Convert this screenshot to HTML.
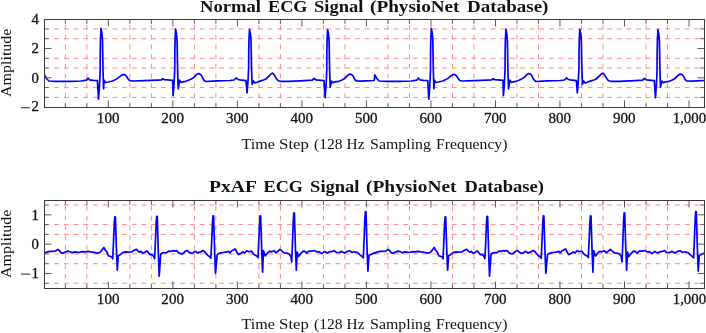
<!DOCTYPE html><html><head><meta charset="utf-8"><style>html,body{margin:0;padding:0;background:#fff;width:706px;height:333px;overflow:hidden}svg{display:block;will-change:transform}text{font-family:"Liberation Serif",serif;fill:#111}</style></head><body>
<svg width="706" height="333" viewBox="0 0 706 333">
<rect width="706" height="333" fill="#fff"/>
<path d="M65.36 103.20V23.80M86.87 103.20V23.80M129.88 103.20V23.80M151.38 103.20V23.80M194.39 103.20V23.80M215.90 103.20V23.80M258.91 103.20V23.80M280.41 103.20V23.80M323.42 103.20V23.80M344.93 103.20V23.80M387.94 103.20V23.80M409.45 103.20V23.80M452.46 103.20V23.80M473.96 103.20V23.80M516.97 103.20V23.80M538.48 103.20V23.80M581.49 103.20V23.80M602.99 103.20V23.80M646.01 103.20V23.80M667.51 103.20V23.80M48.8 97.37H700.2M48.8 87.59H700.2M48.8 68.04H700.2M48.8 58.26H700.2M48.8 38.71H700.2M48.8 28.93H700.2" stroke="#ff8a8a" stroke-width="1.0" stroke-dasharray="4.85 4.85" stroke-dashoffset="4.3" fill="none"/>
<clipPath id="c0"><rect x="44.5" y="19.5" width="660.0" height="88.0"/></clipPath>
<path d="M44.50 74.90 46.50 78.50 48.90 81.00 56.30 81.40 68.60 81.40 80.90 81.00 86.50 80.20 88.10 78.10 89.60 79.80 93.20 80.40 97.40 80.50 98.50 99.20 99.50 85.73 100.15 70.84 100.25 50.99 100.50 38.94 101.00 28.30 102.00 33.74 102.50 40.40 102.75 55.53 103.00 70.05 103.60 88.80 104.10 80.20 105.40 82.50 108.00 82.00 112.50 81.00 115.50 79.60 118.20 77.90 121.00 75.70 123.00 74.50 124.30 74.60 126.10 75.70 127.80 78.50 129.50 80.50 132.30 81.00 144.60 80.70 156.90 80.20 161.50 80.00 162.80 78.60 164.30 79.70 167.40 79.90 172.60 80.30 173.10 95.60 174.10 82.98 174.75 69.04 174.85 50.45 175.10 39.16 175.60 29.20 176.60 34.56 177.10 41.12 177.35 56.02 177.60 70.32 178.20 88.80 179.60 80.20 181.00 82.40 183.00 81.80 185.70 81.30 188.50 80.30 191.30 79.00 194.20 77.10 197.00 74.20 198.70 73.50 201.00 74.80 202.70 78.20 204.40 80.70 206.00 81.50 216.50 80.80 230.00 80.50 234.00 80.00 236.30 77.80 238.00 79.50 240.00 79.90 246.00 80.60 247.00 92.90 248.00 80.82 248.65 67.46 248.75 49.65 249.00 38.84 249.50 29.30 250.50 34.25 251.00 40.30 251.25 54.05 251.50 67.25 252.10 84.30 253.40 81.00 254.70 83.00 257.00 82.30 260.70 80.90 263.50 80.00 265.80 79.00 269.20 75.90 271.40 73.50 272.60 73.20 274.30 74.80 276.50 78.80 278.20 80.70 280.50 81.30 288.30 81.30 300.60 80.80 312.30 80.20 314.20 78.30 316.00 79.90 324.00 80.60 325.10 97.80 326.10 84.86 326.75 70.56 326.85 51.49 327.10 39.91 327.60 29.70 328.60 34.87 329.10 41.18 329.35 55.53 329.60 69.31 330.20 87.10 331.60 81.20 333.00 82.70 335.00 81.80 338.70 81.30 341.50 80.30 344.30 78.80 347.20 75.90 348.90 74.40 350.20 74.20 351.70 74.50 353.40 76.50 354.80 79.60 356.80 81.00 361.30 81.10 366.30 80.80 374.20 80.50 374.82 74.90 376.82 78.50 379.22 81.00 386.62 81.40 398.92 81.40 411.22 81.00 416.82 80.20 418.42 78.10 419.92 79.80 423.52 80.40 427.72 80.50 428.82 99.20 429.82 85.73 430.47 70.84 430.57 50.99 430.82 38.94 431.32 28.30 432.32 33.74 432.82 40.40 433.07 55.53 433.32 70.05 433.92 88.80 434.42 80.20 435.72 82.50 438.32 82.00 442.82 81.00 445.82 79.60 448.52 77.90 451.32 75.70 453.32 74.50 454.62 74.60 456.42 75.70 458.12 78.50 459.82 80.50 462.62 81.00 474.92 80.70 487.22 80.20 491.82 80.00 493.12 78.60 494.62 79.70 497.72 79.90 502.92 80.30 503.42 95.60 504.42 82.98 505.07 69.04 505.17 50.45 505.42 39.16 505.92 29.20 506.92 34.56 507.42 41.12 507.67 56.02 507.92 70.32 508.52 88.80 509.92 80.20 511.32 82.40 513.32 81.80 516.02 81.30 518.82 80.30 521.62 79.00 524.52 77.10 527.32 74.20 529.02 73.50 531.32 74.80 533.02 78.20 534.72 80.70 536.32 81.50 546.82 80.80 560.32 80.50 564.32 80.00 566.62 77.80 568.32 79.50 570.32 79.90 576.32 80.60 577.32 92.90 578.32 80.82 578.97 67.46 579.07 49.65 579.32 38.84 579.82 29.30 580.82 34.25 581.32 40.30 581.57 54.05 581.82 67.25 582.42 84.30 583.72 81.00 585.02 83.00 587.32 82.30 591.02 80.90 593.82 80.00 596.12 79.00 599.52 75.90 601.72 73.50 602.92 73.20 604.62 74.80 606.82 78.80 608.52 80.70 610.82 81.30 618.62 81.30 630.92 80.80 642.62 80.20 644.52 78.30 646.32 79.90 654.32 80.60 655.42 97.80 656.42 84.86 657.07 70.56 657.17 51.49 657.42 39.91 657.92 29.70 658.92 34.87 659.42 41.18 659.67 55.53 659.92 69.31 660.52 87.10 661.92 81.20 663.32 82.70 665.32 81.80 669.02 81.30 671.82 80.30 674.62 78.80 677.52 75.90 679.22 74.40 680.52 74.20 682.02 74.50 683.72 76.50 685.12 79.60 687.12 81.00 691.62 81.10 696.62 80.80 704.52 80.50" stroke="#0000ff" stroke-width="1.7" fill="none" stroke-linejoin="round" clip-path="url(#c0)"/>
<path d="M108.37 107.5v-7M108.37 19.5v7M172.89 107.5v-7M172.89 19.5v7M237.40 107.5v-7M237.40 19.5v7M301.92 107.5v-7M301.92 19.5v7M366.44 107.5v-7M366.44 19.5v7M430.95 107.5v-7M430.95 19.5v7M495.47 107.5v-7M495.47 19.5v7M559.98 107.5v-7M559.98 19.5v7M624.50 107.5v-7M624.50 19.5v7M689.02 107.5v-7M689.02 19.5v7M65.36 107.5v-4.3M65.36 19.5v4.3M86.87 107.5v-4.3M86.87 19.5v4.3M129.88 107.5v-4.3M129.88 19.5v4.3M151.38 107.5v-4.3M151.38 19.5v4.3M194.39 107.5v-4.3M194.39 19.5v4.3M215.90 107.5v-4.3M215.90 19.5v4.3M258.91 107.5v-4.3M258.91 19.5v4.3M280.41 107.5v-4.3M280.41 19.5v4.3M323.42 107.5v-4.3M323.42 19.5v4.3M344.93 107.5v-4.3M344.93 19.5v4.3M387.94 107.5v-4.3M387.94 19.5v4.3M409.45 107.5v-4.3M409.45 19.5v4.3M452.46 107.5v-4.3M452.46 19.5v4.3M473.96 107.5v-4.3M473.96 19.5v4.3M516.97 107.5v-4.3M516.97 19.5v4.3M538.48 107.5v-4.3M538.48 19.5v4.3M581.49 107.5v-4.3M581.49 19.5v4.3M602.99 107.5v-4.3M602.99 19.5v4.3M646.01 107.5v-4.3M646.01 19.5v4.3M667.51 107.5v-4.3M667.51 19.5v4.3M44.5 77.82h7M704.5 77.82h-7M44.5 48.48h7M704.5 48.48h-7M44.5 97.37h4.3M704.5 97.37h-4.3M44.5 87.59h4.3M704.5 87.59h-4.3M44.5 68.04h4.3M704.5 68.04h-4.3M44.5 58.26h4.3M704.5 58.26h-4.3M44.5 38.71h4.3M704.5 38.71h-4.3M44.5 28.93h4.3M704.5 28.93h-4.3" stroke="#5a5a5a" stroke-width="1" fill="none"/>
<rect x="44.5" y="19.5" width="660.0" height="88.0" fill="none" stroke="#3a3a3a" stroke-width="1"/>
<text x="200.02" y="11.5" font-size="16.0" font-weight="bold" textLength="60.88" lengthAdjust="spacingAndGlyphs">Normal</text>
<text x="268.04" y="11.5" font-size="16.0" font-weight="bold" textLength="39.36" lengthAdjust="spacingAndGlyphs">ECG</text>
<text x="314.10" y="11.5" font-size="16.0" font-weight="bold" textLength="49.30" lengthAdjust="spacingAndGlyphs">Signal</text>
<text x="370.08" y="11.5" font-size="16.0" font-weight="bold" textLength="89.42" lengthAdjust="spacingAndGlyphs">(PhysioNet</text>
<text x="467.10" y="11.5" font-size="16.0" font-weight="bold" textLength="81.30" lengthAdjust="spacingAndGlyphs">Database)</text>
<text x="108.17" y="122.75" font-size="14.8" text-anchor="middle" stroke="#111" stroke-width="0.3" textLength="22.6" lengthAdjust="spacingAndGlyphs">100</text>
<text x="172.69" y="122.75" font-size="14.8" text-anchor="middle" stroke="#111" stroke-width="0.3" textLength="22.6" lengthAdjust="spacingAndGlyphs">200</text>
<text x="237.20" y="122.75" font-size="14.8" text-anchor="middle" stroke="#111" stroke-width="0.3" textLength="22.6" lengthAdjust="spacingAndGlyphs">300</text>
<text x="301.72" y="122.75" font-size="14.8" text-anchor="middle" stroke="#111" stroke-width="0.3" textLength="22.6" lengthAdjust="spacingAndGlyphs">400</text>
<text x="366.24" y="122.75" font-size="14.8" text-anchor="middle" stroke="#111" stroke-width="0.3" textLength="22.6" lengthAdjust="spacingAndGlyphs">500</text>
<text x="430.75" y="122.75" font-size="14.8" text-anchor="middle" stroke="#111" stroke-width="0.3" textLength="22.6" lengthAdjust="spacingAndGlyphs">600</text>
<text x="495.27" y="122.75" font-size="14.8" text-anchor="middle" stroke="#111" stroke-width="0.3" textLength="22.6" lengthAdjust="spacingAndGlyphs">700</text>
<text x="559.78" y="122.75" font-size="14.8" text-anchor="middle" stroke="#111" stroke-width="0.3" textLength="22.6" lengthAdjust="spacingAndGlyphs">800</text>
<text x="624.30" y="122.75" font-size="14.8" text-anchor="middle" stroke="#111" stroke-width="0.3" textLength="22.6" lengthAdjust="spacingAndGlyphs">900</text>
<text x="689.42" y="122.75" font-size="14.8" text-anchor="middle" stroke="#111" stroke-width="0.3" textLength="33.4" lengthAdjust="spacingAndGlyphs">1,000</text>
<text x="241.52" y="148.7" font-size="15.6" textLength="33.40" lengthAdjust="spacingAndGlyphs">Time</text>
<text x="279.12" y="148.7" font-size="15.6" textLength="29.80" lengthAdjust="spacingAndGlyphs">Step</text>
<text x="314.10" y="148.7" font-size="15.6" textLength="28.38" lengthAdjust="spacingAndGlyphs">(128</text>
<text x="346.60" y="148.7" font-size="15.6" textLength="17.90" lengthAdjust="spacingAndGlyphs">Hz</text>
<text x="370.10" y="148.7" font-size="15.6" textLength="60.84" lengthAdjust="spacingAndGlyphs">Sampling</text>
<text x="436.08" y="148.7" font-size="15.6" textLength="71.34" lengthAdjust="spacingAndGlyphs">Frequency)</text>
<text x="38.9" y="111.20" font-size="14.8" text-anchor="end" stroke="#111" stroke-width="0.3">2</text>
<rect x="21.0" y="107.30" width="8.9" height="0.9" fill="#111"/>
<text x="38.9" y="82.72" font-size="14.8" text-anchor="end" stroke="#111" stroke-width="0.3">0</text>
<text x="38.9" y="53.38" font-size="14.8" text-anchor="end" stroke="#111" stroke-width="0.3">2</text>
<text x="38.9" y="24.05" font-size="14.8" text-anchor="end" stroke="#111" stroke-width="0.3">4</text>
<text transform="translate(10.85 62.80) rotate(-90)" x="0" y="0" font-size="15.6" text-anchor="middle" textLength="68.4" lengthAdjust="spacingAndGlyphs">Amplitude</text>
<path d="M65.36 284.20V204.80M86.87 284.20V204.80M129.88 284.20V204.80M151.38 284.20V204.80M194.39 284.20V204.80M215.90 284.20V204.80M258.91 284.20V204.80M280.41 284.20V204.80M323.42 284.20V204.80M344.93 284.20V204.80M387.94 284.20V204.80M409.45 284.20V204.80M452.46 284.20V204.80M473.96 284.20V204.80M516.97 284.20V204.80M538.48 284.20V204.80M581.49 284.20V204.80M602.99 284.20V204.80M646.01 284.20V204.80M667.51 284.20V204.80M48.8 283.26H700.2M48.8 263.71H700.2M48.8 253.93H700.2M48.8 234.37H700.2M48.8 224.59H700.2M48.8 205.04H700.2" stroke="#ff8a8a" stroke-width="1.0" stroke-dasharray="4.85 4.85" stroke-dashoffset="4.3" fill="none"/>
<clipPath id="c1"><rect x="44.5" y="200.5" width="660.0" height="88.0"/></clipPath>
<path d="M44.50 253.30 46.80 252.10 49.70 251.40 52.50 251.40 55.30 251.10 57.80 249.50 59.20 250.40 61.40 253.20 63.10 253.20 65.20 252.10 67.70 251.10 70.20 251.80 72.30 252.90 73.70 251.80 76.60 252.10 79.40 252.50 82.20 251.60 85.10 251.90 87.90 251.40 90.70 251.90 92.80 252.10 95.00 252.50 97.10 253.10 99.90 252.50 101.70 250.40 103.80 247.50 105.20 250.00 107.00 252.10 108.40 255.70 110.50 256.40 112.00 257.10 112.70 258.80 113.50 242.00 114.30 223.10 114.80 216.80 115.40 217.00 115.90 232.79 116.40 248.78 117.30 270.10 118.30 255.70 119.70 255.00 121.20 253.90 122.60 252.50 125.40 251.90 128.20 252.10 131.80 251.80 133.90 250.40 136.40 249.30 138.20 251.10 139.40 252.10 141.20 251.40 142.60 253.20 144.40 252.50 146.90 250.90 148.60 252.90 150.00 254.60 151.80 254.30 153.20 255.70 154.60 258.60 155.40 241.72 156.20 222.73 156.70 216.40 157.30 216.60 157.80 234.31 158.30 252.22 159.20 276.10 160.70 253.90 162.40 252.90 164.20 252.50 166.30 252.90 168.50 251.10 170.60 251.40 172.70 250.70 174.80 251.10 176.60 250.50 178.70 252.90 180.50 253.60 182.30 253.90 184.00 252.50 186.20 250.70 187.40 250.70 189.20 252.40 191.00 253.10 193.10 252.90 194.90 251.40 196.30 251.80 197.70 253.20 199.50 252.10 200.90 251.80 202.60 250.50 204.40 251.40 206.20 253.60 207.60 255.30 209.40 256.40 210.90 258.30 211.70 241.30 212.50 222.17 213.00 215.80 213.60 216.00 214.10 233.05 214.60 250.30 215.50 273.30 217.20 254.60 218.60 253.60 220.70 252.90 222.80 252.50 225.70 252.10 228.50 251.40 229.90 252.90 231.70 250.70 233.50 250.00 234.90 249.00 235.60 249.30 237.20 252.90 238.60 254.60 240.40 253.60 243.20 251.80 244.60 253.20 246.70 250.70 248.90 251.80 251.40 251.10 253.10 253.60 254.90 255.00 256.70 255.90 258.00 257.60 258.80 240.88 259.60 222.07 260.10 215.80 260.70 216.00 261.20 232.72 261.70 249.64 262.60 272.20 263.40 250.50 265.20 256.00 267.30 253.20 269.40 251.40 271.50 251.80 274.00 250.70 276.10 252.90 280.00 249.30 282.00 251.10 284.10 252.90 287.00 253.20 289.10 253.90 290.90 256.70 291.70 261.90 292.50 242.26 293.30 220.16 293.80 212.80 294.40 213.00 294.90 229.99 295.40 247.18 296.30 270.10 297.20 252.00 298.30 256.70 300.40 253.90 303.20 251.10 305.00 251.40 306.80 253.20 308.90 251.10 311.70 251.10 314.20 250.50 316.70 251.80 319.50 251.80 321.70 253.60 324.50 251.40 327.30 252.90 329.50 251.80 332.10 251.40 334.20 250.70 336.40 252.50 339.20 252.50 341.70 251.40 344.50 253.10 347.00 251.60 349.80 250.70 352.00 252.50 354.40 251.80 357.60 252.50 359.70 254.60 361.50 256.00 363.30 257.80 364.10 239.28 364.90 218.44 365.40 211.50 366.00 211.70 366.50 229.38 367.00 247.26 367.90 271.10 369.00 255.50 370.40 254.60 372.50 253.90 374.30 252.60 374.82 253.30 377.12 252.10 380.02 251.40 382.82 251.40 385.62 251.10 388.12 249.50 389.52 250.40 391.72 253.20 393.42 253.20 395.52 252.10 398.02 251.10 400.52 251.80 402.62 252.90 404.02 251.80 406.92 252.10 409.72 252.50 412.52 251.60 415.42 251.90 418.22 251.40 421.02 251.90 423.12 252.10 425.32 252.50 427.42 253.10 430.22 252.50 432.02 250.40 434.12 247.50 435.52 250.00 437.32 252.10 438.72 255.70 440.82 256.40 442.32 257.10 443.02 258.80 443.82 242.00 444.62 223.10 445.12 216.80 445.72 217.00 446.22 232.79 446.72 248.78 447.62 270.10 448.62 255.70 450.02 255.00 451.52 253.90 452.92 252.50 455.72 251.90 458.52 252.10 462.12 251.80 464.22 250.40 466.72 249.30 468.52 251.10 469.72 252.10 471.52 251.40 472.92 253.20 474.72 252.50 477.22 250.90 478.92 252.90 480.32 254.60 482.12 254.30 483.52 255.70 484.92 258.60 485.72 241.72 486.52 222.73 487.02 216.40 487.62 216.60 488.12 234.31 488.62 252.22 489.52 276.10 491.02 253.90 492.72 252.90 494.52 252.50 496.62 252.90 498.82 251.10 500.92 251.40 503.02 250.70 505.12 251.10 506.92 250.50 509.02 252.90 510.82 253.60 512.62 253.90 514.32 252.50 516.52 250.70 517.72 250.70 519.52 252.40 521.32 253.10 523.42 252.90 525.22 251.40 526.62 251.80 528.02 253.20 529.82 252.10 531.22 251.80 532.92 250.50 534.72 251.40 536.52 253.60 537.92 255.30 539.72 256.40 541.22 258.30 542.02 241.30 542.82 222.17 543.32 215.80 543.92 216.00 544.42 233.05 544.92 250.30 545.82 273.30 547.52 254.60 548.92 253.60 551.02 252.90 553.12 252.50 556.02 252.10 558.82 251.40 560.22 252.90 562.02 250.70 563.82 250.00 565.22 249.00 565.92 249.30 567.52 252.90 568.92 254.60 570.72 253.60 573.52 251.80 574.92 253.20 577.02 250.70 579.22 251.80 581.72 251.10 583.42 253.60 585.22 255.00 587.02 255.90 588.32 257.60 589.12 240.88 589.92 222.07 590.42 215.80 591.02 216.00 591.52 232.72 592.02 249.64 592.92 272.20 593.72 250.50 595.52 256.00 597.62 253.20 599.72 251.40 601.82 251.80 604.32 250.70 606.42 252.90 610.32 249.30 612.32 251.10 614.42 252.90 617.32 253.20 619.42 253.90 621.22 256.70 622.02 261.90 622.82 242.26 623.62 220.16 624.12 212.80 624.72 213.00 625.22 229.99 625.72 247.18 626.62 270.10 627.52 252.00 628.62 256.70 630.72 253.90 633.52 251.10 635.32 251.40 637.12 253.20 639.22 251.10 642.02 251.10 644.52 250.50 647.02 251.80 649.82 251.80 652.02 253.60 654.82 251.40 657.62 252.90 659.82 251.80 662.42 251.40 664.52 250.70 666.72 252.50 669.52 252.50 672.02 251.40 674.82 253.10 677.32 251.60 680.12 250.70 682.32 252.50 684.72 251.80 687.92 252.50 690.02 254.60 691.82 256.00 693.62 257.80 694.42 239.28 695.22 218.44 695.72 211.50 696.32 211.70 696.82 229.38 697.32 247.26 698.22 271.10 699.32 255.50 700.72 254.60 702.82 253.90 704.62 252.60" stroke="#0000ff" stroke-width="1.7" fill="none" stroke-linejoin="round" clip-path="url(#c1)"/>
<path d="M108.37 288.5v-7M108.37 200.5v7M172.89 288.5v-7M172.89 200.5v7M237.40 288.5v-7M237.40 200.5v7M301.92 288.5v-7M301.92 200.5v7M366.44 288.5v-7M366.44 200.5v7M430.95 288.5v-7M430.95 200.5v7M495.47 288.5v-7M495.47 200.5v7M559.98 288.5v-7M559.98 200.5v7M624.50 288.5v-7M624.50 200.5v7M689.02 288.5v-7M689.02 200.5v7M65.36 288.5v-4.3M65.36 200.5v4.3M86.87 288.5v-4.3M86.87 200.5v4.3M129.88 288.5v-4.3M129.88 200.5v4.3M151.38 288.5v-4.3M151.38 200.5v4.3M194.39 288.5v-4.3M194.39 200.5v4.3M215.90 288.5v-4.3M215.90 200.5v4.3M258.91 288.5v-4.3M258.91 200.5v4.3M280.41 288.5v-4.3M280.41 200.5v4.3M323.42 288.5v-4.3M323.42 200.5v4.3M344.93 288.5v-4.3M344.93 200.5v4.3M387.94 288.5v-4.3M387.94 200.5v4.3M409.45 288.5v-4.3M409.45 200.5v4.3M452.46 288.5v-4.3M452.46 200.5v4.3M473.96 288.5v-4.3M473.96 200.5v4.3M516.97 288.5v-4.3M516.97 200.5v4.3M538.48 288.5v-4.3M538.48 200.5v4.3M581.49 288.5v-4.3M581.49 200.5v4.3M602.99 288.5v-4.3M602.99 200.5v4.3M646.01 288.5v-4.3M646.01 200.5v4.3M667.51 288.5v-4.3M667.51 200.5v4.3M44.5 273.48h7M704.5 273.48h-7M44.5 244.15h7M704.5 244.15h-7M44.5 214.82h7M704.5 214.82h-7M44.5 283.26h4.3M704.5 283.26h-4.3M44.5 263.71h4.3M704.5 263.71h-4.3M44.5 253.93h4.3M704.5 253.93h-4.3M44.5 234.37h4.3M704.5 234.37h-4.3M44.5 224.59h4.3M704.5 224.59h-4.3M44.5 205.04h4.3M704.5 205.04h-4.3" stroke="#5a5a5a" stroke-width="1" fill="none"/>
<rect x="44.5" y="200.5" width="660.0" height="88.0" fill="none" stroke="#3a3a3a" stroke-width="1"/>
<text x="209.08" y="192.3" font-size="16.0" font-weight="bold" textLength="47.82" lengthAdjust="spacingAndGlyphs">PxAF</text>
<text x="263.60" y="192.3" font-size="16.0" font-weight="bold" textLength="39.32" lengthAdjust="spacingAndGlyphs">ECG</text>
<text x="310.10" y="192.3" font-size="16.0" font-weight="bold" textLength="49.36" lengthAdjust="spacingAndGlyphs">Signal</text>
<text x="366.10" y="192.3" font-size="16.0" font-weight="bold" textLength="90.34" lengthAdjust="spacingAndGlyphs">(PhysioNet</text>
<text x="464.56" y="192.3" font-size="16.0" font-weight="bold" textLength="79.34" lengthAdjust="spacingAndGlyphs">Database)</text>
<text x="108.17" y="303.95" font-size="14.8" text-anchor="middle" stroke="#111" stroke-width="0.3" textLength="22.6" lengthAdjust="spacingAndGlyphs">100</text>
<text x="172.69" y="303.95" font-size="14.8" text-anchor="middle" stroke="#111" stroke-width="0.3" textLength="22.6" lengthAdjust="spacingAndGlyphs">200</text>
<text x="237.20" y="303.95" font-size="14.8" text-anchor="middle" stroke="#111" stroke-width="0.3" textLength="22.6" lengthAdjust="spacingAndGlyphs">300</text>
<text x="301.72" y="303.95" font-size="14.8" text-anchor="middle" stroke="#111" stroke-width="0.3" textLength="22.6" lengthAdjust="spacingAndGlyphs">400</text>
<text x="366.24" y="303.95" font-size="14.8" text-anchor="middle" stroke="#111" stroke-width="0.3" textLength="22.6" lengthAdjust="spacingAndGlyphs">500</text>
<text x="430.75" y="303.95" font-size="14.8" text-anchor="middle" stroke="#111" stroke-width="0.3" textLength="22.6" lengthAdjust="spacingAndGlyphs">600</text>
<text x="495.27" y="303.95" font-size="14.8" text-anchor="middle" stroke="#111" stroke-width="0.3" textLength="22.6" lengthAdjust="spacingAndGlyphs">700</text>
<text x="559.78" y="303.95" font-size="14.8" text-anchor="middle" stroke="#111" stroke-width="0.3" textLength="22.6" lengthAdjust="spacingAndGlyphs">800</text>
<text x="624.30" y="303.95" font-size="14.8" text-anchor="middle" stroke="#111" stroke-width="0.3" textLength="22.6" lengthAdjust="spacingAndGlyphs">900</text>
<text x="689.42" y="303.95" font-size="14.8" text-anchor="middle" stroke="#111" stroke-width="0.3" textLength="33.4" lengthAdjust="spacingAndGlyphs">1,000</text>
<text x="241.52" y="329.2" font-size="15.6" textLength="33.40" lengthAdjust="spacingAndGlyphs">Time</text>
<text x="279.12" y="329.2" font-size="15.6" textLength="29.80" lengthAdjust="spacingAndGlyphs">Step</text>
<text x="314.10" y="329.2" font-size="15.6" textLength="28.38" lengthAdjust="spacingAndGlyphs">(128</text>
<text x="346.60" y="329.2" font-size="15.6" textLength="17.90" lengthAdjust="spacingAndGlyphs">Hz</text>
<text x="370.10" y="329.2" font-size="15.6" textLength="60.84" lengthAdjust="spacingAndGlyphs">Sampling</text>
<text x="436.08" y="329.2" font-size="15.6" textLength="71.34" lengthAdjust="spacingAndGlyphs">Frequency)</text>
<text x="38.9" y="277.53" font-size="14.8" text-anchor="end" stroke="#111" stroke-width="0.3">1</text>
<rect x="21.0" y="273.63" width="8.9" height="0.9" fill="#111"/>
<text x="38.9" y="249.05" font-size="14.8" text-anchor="end" stroke="#111" stroke-width="0.3">0</text>
<text x="38.9" y="219.72" font-size="14.8" text-anchor="end" stroke="#111" stroke-width="0.3">1</text>
<text transform="translate(10.85 243.80) rotate(-90)" x="0" y="0" font-size="15.6" text-anchor="middle" textLength="68.4" lengthAdjust="spacingAndGlyphs">Amplitude</text>
</svg></body></html>
